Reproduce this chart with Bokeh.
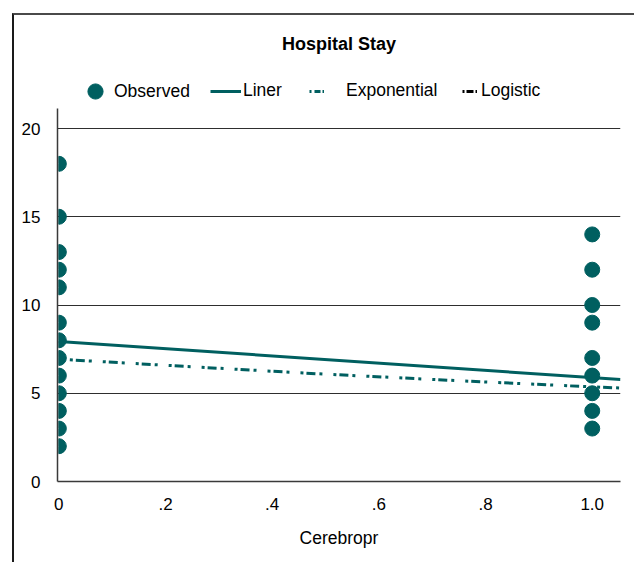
import math
from bokeh.plotting import figure
from bokeh.models import Legend, LegendItem, FixedTicker, Range1d
from bokeh.embed import file_html
from bokeh.resources import INLINE

# ---- data ----
obs_x = [0] * 13 + [1] * 9
obs_y = [2, 3, 4, 5, 6, 7, 8, 9, 11, 12, 13, 15, 18,
         3, 4, 5, 6, 7, 9, 10, 12, 14]

linear_x = [0, 1.053]
linear_y = [7.93, 5.78]

exp_x = [0, 0.25, 0.5, 0.75, 1.0, 1.053]
exp_y = [6.93, 6.50, 6.08, 5.71, 5.36, 5.30]

logistic_x = [None]
logistic_y = [None]

x_ticks = [0, 0.2, 0.4, 0.6, 0.8, 1.0]
x_tick_labels = ["0", ".2", ".4", ".6", ".8", "1.0"]
y_ticks = [0, 5, 10, 15, 20]
y_axis_max = 21.13

series_names = ["Observed", "Liner", "Exponential", "Logistic"]

TEAL = "#005F60"
FONT = "Liberation Sans"

p = figure(width=622, height=549, output_backend="svg", toolbar_location=None,
           x_range=Range1d(-0.0025, 1.053), y_range=Range1d(0, 23.74),
           min_border_left=43, min_border_right=16, min_border_top=47,
           min_border_bottom=83,
           styles={"position": "relative", "left": "12px", "top": "13px",
                   "border-left": "2px solid #1a1a1a",
                   "border-top": "2px solid #4a4a4a"})

p.title.text = "Hospital Stay"
p.title.align = "center"
p.title.text_font = FONT
p.title.text_font_size = "18px"
p.title.text_font_style = "bold"
p.title.text_color = "#000000"
p.title.standoff = 18

p.outline_line_color = None
p.xgrid.visible = False
p.ygrid.ticker = FixedTicker(ticks=y_ticks)
p.ygrid.grid_line_color = "#2e2e2e"
p.ygrid.grid_line_width = 1

p.xaxis.ticker = FixedTicker(ticks=x_ticks)
p.xaxis.major_label_overrides = {t: l for t, l in zip(x_ticks, x_tick_labels)}
p.yaxis.ticker = FixedTicker(ticks=y_ticks)
p.yaxis.bounds = (0, y_axis_max)
p.xaxis.axis_label = "Cerebropr"

for ax in (p.xaxis[0], p.yaxis[0]):
    ax.major_tick_line_color = None
    ax.minor_tick_line_color = None
    ax.axis_line_color = "#3a3a3a"
    ax.axis_line_width = 1.5
    ax.major_label_text_font = FONT
    ax.major_label_text_font_size = "17px"
    ax.major_label_text_color = "#000000"
    ax.axis_label_text_font = FONT
    ax.axis_label_text_font_size = "17.5px"
    ax.axis_label_text_font_style = "normal"
    ax.axis_label_text_color = "#000000"

p.xaxis.major_label_standoff = 10
p.xaxis.axis_label_standoff = 15
p.yaxis.major_label_standoff = 11

EXP_DASH = "3 3 9 4 3 11"
r_lin = p.line(linear_x, linear_y, line_color=TEAL, line_width=3)
r_exp = p.line(exp_x, exp_y, line_color=TEAL, line_width=3,
               line_dash=EXP_DASH, line_dash_offset=22)

# observed points: those on the left frame edge are cut by the axis (half discs)
edge_x = [x for x in obs_x if x == 0]
edge_y = [y for x, y in zip(obs_x, obs_y) if x == 0]
in_x = [x for x in obs_x if x != 0]
in_y = [y for x, y in zip(obs_x, obs_y) if x != 0]
p.wedge(edge_x, edge_y, radius=7.5, radius_units="screen",
        start_angle=-math.pi / 2, end_angle=math.pi / 2,
        fill_color=TEAL, line_color=TEAL)
r_obs = p.scatter(in_x, in_y, size=15, fill_color=TEAL, line_color=TEAL)

# legend-only renderers (no visible data)
r_exp_key = p.line(logistic_x, logistic_y, line_color=TEAL, line_width=3,
                   line_dash="2 3 6 2 2 20")
r_log = p.line(logistic_x, logistic_y, line_color="#000000", line_width=3,
               line_dash="2 2 7 2 2 20")

common = dict(orientation="horizontal", padding=0, margin=0, spacing=0,
              border_line_alpha=0, background_fill_alpha=0,
              label_text_font=FONT, label_text_font_size="17.5px",
              label_text_color="#000000")

# (renderer, location in px from frame bottom-left, glyph w, glyph h, standoff)
legend_specs = [
    (r_obs, (19, 371), 38, 38, 0),
    (r_lin, (153, 380), 31, 20, 2),
    (r_exp_key, (252, 380), 15, 20, 22),
    (r_log, (405, 380), 15, 20, 4),
]
for name, (rend, loc, gw, gh, so) in zip(series_names, legend_specs):
    lg = Legend(items=[LegendItem(label=name, renderers=[rend])],
                location=loc, glyph_width=gw, glyph_height=gh,
                label_standoff=so, **common)
    p.add_layout(lg, "center")

open("out.html", "w").write(file_html(p, INLINE))
